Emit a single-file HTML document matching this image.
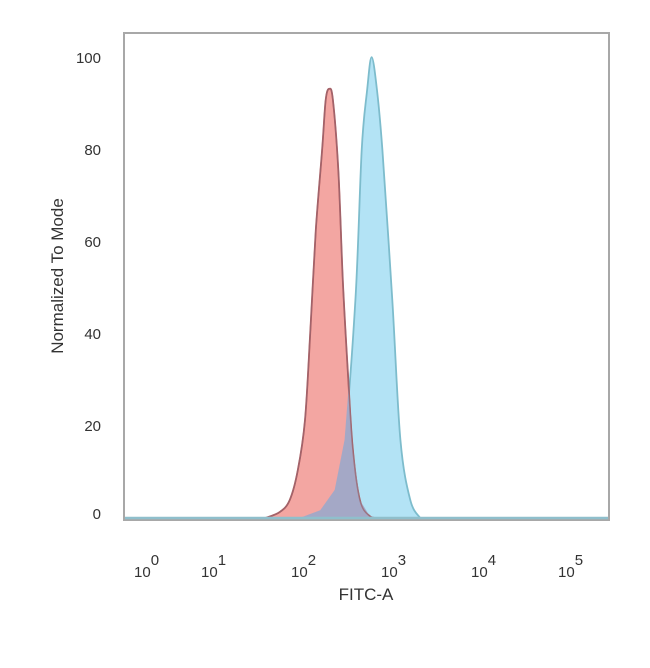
<!DOCTYPE html>
<html><head><meta charset="utf-8"><style>
body{margin:0;background:#fff;}
svg text{font-family:"Liberation Sans",sans-serif;fill:#333;}
</style></head><body>
<svg id="chart" width="650" height="663" viewBox="0 0 650 663" xmlns="http://www.w3.org/2000/svg">
<rect x="124" y="33" width="485" height="487" fill="#fff" stroke="#a8a8a8" stroke-width="2"/>
<g id="marks"></g>
<g id="axes"></g>
<text x="366" y="600" font-size="17" text-anchor="middle">FITC-A</text>
<text transform="translate(63,276) rotate(-90)" font-size="17" text-anchor="middle">Normalized To Mode</text>
</svg>
<script>
const yTicks=[0,20,40,60,80,100];
const xDecades=[0,1,2,3,4,5];
const redLog=[1.56,1.72,1.83,1.92,2.0,2.06,2.12,2.19,2.23,2.27,2.31,2.37,2.42,2.48,2.53,2.61,2.72,2.83];
const redVal=[0,1.3,3.9,10.4,21.3,40.9,62.6,80,90.9,93.3,90.9,75.7,51.7,30.4,15.2,3.9,0.4,0];
const blueLog=[1.94,2.17,2.33,2.44,2.56,2.63,2.69,2.74,2.80,2.86,2.97,3.06,3.17,3.28];
const blueVal=[0,1.7,6.1,17,47.4,80,93,100.2,93,80,47.4,17,3.9,0];
const decPx=[148,215,305,395,485,572];
function xs(l){
  if(l<=0) return decPx[0]+(l)*(decPx[1]-decPx[0]);
  const i=Math.min(4,Math.floor(l));const f=l-i;
  return decPx[i]+f*(decPx[i+1]-decPx[i]);
}
function ys(v){return 518-v*4.6;}
const NS='http://www.w3.org/2000/svg';
const marks=document.getElementById('marks'),axes=document.getElementById('axes');
function smoothPath(P){
  let d='M'+P[0][0].toFixed(1)+','+P[0][1].toFixed(1);
  for(let i=0;i<P.length-1;i++){
    const p0=P[Math.max(0,i-1)],p1=P[i],p2=P[i+1],p3=P[Math.min(P.length-1,i+2)];
    const c1=[p1[0]+(p2[0]-p0[0])/6,p1[1]+(p2[1]-p0[1])/6];
    const c2=[p2[0]-(p3[0]-p1[0])/6,p2[1]-(p3[1]-p1[1])/6];
    d+=' C'+c1[0].toFixed(1)+','+c1[1].toFixed(1)+' '+c2[0].toFixed(1)+','+c2[1].toFixed(1)+' '+p2[0].toFixed(1)+','+p2[1].toFixed(1);
  }
  return d;
}
function interp(L,V,l){
  if(l<=L[0]||l>=L[L.length-1]) return 0;
  for(let i=0;i<L.length-1;i++) if(l>=L[i]&&l<=L[i+1]){const f=(l-L[i])/(L[i+1]-L[i]);return V[i]+f*(V[i+1]-V[i]);}
  return 0;
}
function area(L,V,fill,stroke,name){
  const P=L.map((l,i)=>[xs(l),ys(V[i])]);
  const d=smoothPath(P)+' Z';
  const p=document.createElementNS(NS,'path');
  p.setAttribute('d',d);p.setAttribute('fill',fill);
  p.setAttribute('stroke',stroke);p.setAttribute('stroke-width','1.8');p.setAttribute('stroke-linejoin','round');
  
  
  marks.appendChild(p);
  return p;
}
area(blueLog,blueVal,'#b3e3f5','#7dbccc','blue-histogram');
area(redLog,redVal,'#f3a6a2','#b65a5a','red-histogram');
// overlap region (min of both series)
(function(){
  const lo=Math.max(redLog[0],blueLog[0]),hi=Math.min(redLog[redLog.length-1],blueLog[blueLog.length-1]);
  const pts=[];
  for(let l=lo;l<=hi+1e-9;l+=0.005){pts.push([xs(l),ys(Math.min(interp(redLog,redVal,l),interp(blueLog,blueVal,l)))]);}
  const p=document.createElementNS(NS,'path');
  p.setAttribute('d','M'+pts.map(q=>q[0].toFixed(1)+','+q[1].toFixed(1)).join(' L')+' Z');
  p.setAttribute('fill','#a4a8c6');
  
  
  marks.appendChild(p);
})();
// red right edge outline over overlap
(function(){
  const P=redLog.map((l,i)=>[xs(l),ys(redVal[i])]);
  const p=document.createElementNS(NS,'path');
  p.setAttribute('d',smoothPath(P));p.setAttribute('fill','none');
  p.setAttribute('stroke','#9a6670');p.setAttribute('stroke-width','1.4');p.setAttribute('stroke-opacity','0.8');
  
  
  marks.appendChild(p);
})();
const base=document.createElementNS(NS,'line');
base.setAttribute('x1',125);base.setAttribute('x2',608);base.setAttribute('y1',518);base.setAttribute('y2',518);
base.setAttribute('stroke','#8fbfcc');base.setAttribute('stroke-width','2.5');


marks.appendChild(base);
yTicks.forEach(v=>{
  const t=document.createElementNS(NS,'text');
  t.setAttribute('x',101);t.setAttribute('y',ys(v)+5-(v===0?4:0));t.setAttribute('font-size','15');t.setAttribute('text-anchor','end');
  t.textContent=v;
  
  
  axes.appendChild(t);
});
xDecades.forEach(e=>{
  const t=document.createElementNS(NS,'text');
  t.setAttribute('x',xs(e)-14);t.setAttribute('y',577);t.setAttribute('font-size','15');
  t.innerHTML='10<tspan dy="-12" font-size="15">'+e+'</tspan>';
  
  
  axes.appendChild(t);
});
</script>
</body></html>
